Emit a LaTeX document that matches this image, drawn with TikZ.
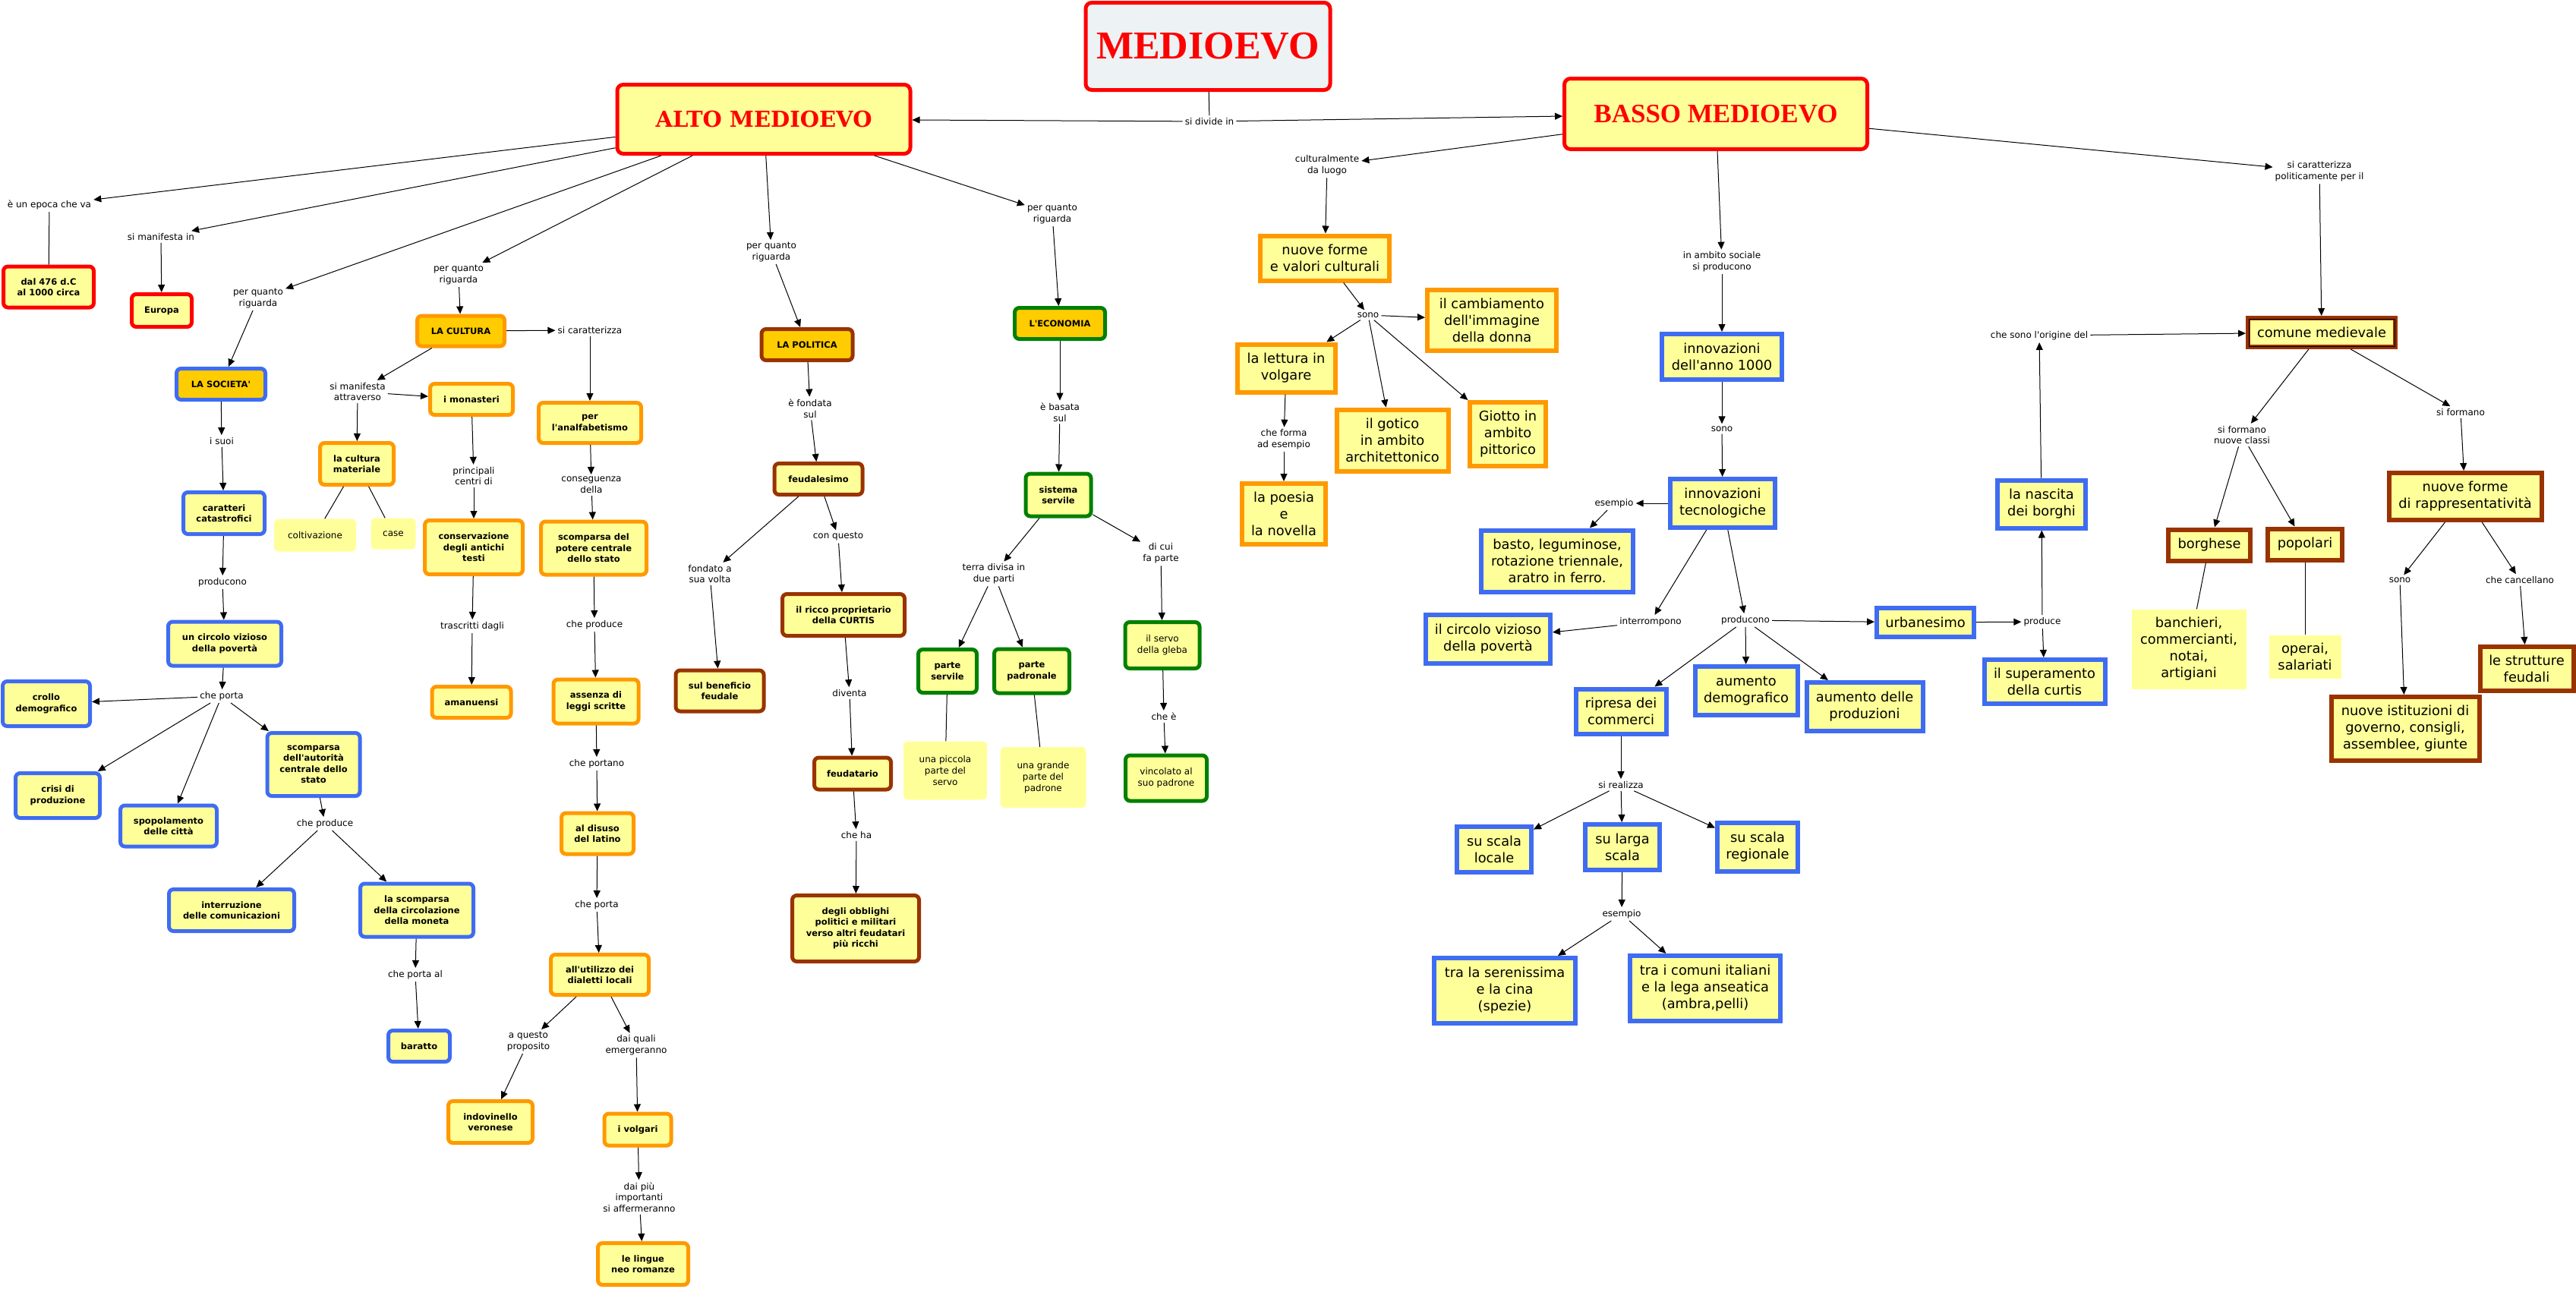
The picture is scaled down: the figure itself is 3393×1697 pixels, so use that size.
\documentclass[tikz,border=0pt]{standalone}
\usepackage{fontspec}
\setmainfont{DejaVu Sans}
\newfontfamily\timesfont{Liberation Serif}
\newfontfamily\slabfont{DejaVu Serif}
\usepackage{tikz}
\usetikzlibrary{arrows.meta, positioning}
\definecolor{giallo}{HTML}{FFFF99}
\definecolor{oro}{HTML}{FFCC00}
\definecolor{grigio}{HTML}{EDF3F5}
\definecolor{rosso}{HTML}{FF0000}
\definecolor{blu}{HTML}{3F6CF2}
\definecolor{arancio}{HTML}{FF9900}
\definecolor{marrone}{HTML}{993300}
\definecolor{verde}{HTML}{008000}

\begin{document}
\begin{tikzpicture}[x=1pt, y=-1pt,
    lbl/.style={font=\fontsize{12}{14.7}\selectfont, align=center, inner sep=3pt},
    nodoA/.style={draw=#1, line width=5pt, rounded corners=6pt, fill=giallo, align=center, inner sep=2pt, font=\fontsize{11.5}{14.5}\selectfont\bfseries},
    nodoB/.style={draw=#1, line width=6pt, fill=giallo, align=center, inner sep=2pt, font=\fontsize{17.8}{22}\selectfont},
    testa/.style={fill=oro},
    semplice/.style={fill=giallo, rounded corners=6pt, align=center, inner sep=2pt, font=\fontsize{12}{14.7}\selectfont},
    titolo/.style={draw=rosso, line width=5pt, rounded corners=8pt, fill=giallo, text=rosso, inner sep=2pt},
    sz/.style 2 args={minimum width=#1pt, minimum height=#2pt},
    arr/.style={line width=1pt, -{Triangle[length=10pt,width=9pt]}},
    tratto/.style={line width=1pt}]

            \useasboundingbox (0,0) rectangle (3393,1697);

            % Vẽ các tiêu đề
            \node[titolo, fill=grigio, sz={322}{115}, font=\timesfont\bfseries\fontsize{52}{60}\selectfont] (medioevo) at (1591,61) {MEDIOEVO};
            \node[titolo, sz={386}{91}, font=\slabfont\bfseries\fontsize{29}{34}\selectfont] (alto) at (1006,157) {ALTO MEDIOEVO};
            \node[titolo, sz={399}{93}, font=\timesfont\bfseries\fontsize{35}{40}\selectfont] (basso) at (2260,150) {BASSO MEDIOEVO};

            % Vẽ các nút - alto medioevo
            \node[nodoA=rosso, sz={119}{54}] (dal476) at (64,378) {dal 476 d.C\\al 1000 circa};
            \node[nodoA=rosso, sz={79}{43}] (europa) at (213,409) {Europa};
            \node[nodoA=blu, testa, sz={117}{41}] (societa) at (291,506) {LA SOCIETA\textquotesingle};
            \node[nodoA=blu, sz={107}{55}] (caratteri) at (295,676) {caratteri\\catastrofici};
            \node[nodoA=blu, sz={149}{58}] (circolo) at (296,848) {un circolo vizioso\\della povertà};
            \node[nodoA=blu, sz={115}{59}] (crollo) at (61,927) {crollo\\demografico};
            \node[nodoA=blu, sz={111}{59}] (crisi) at (76,1048) {crisi di\\produzione};
            \node[nodoA=blu, sz={127}{54}] (spopol) at (222,1088) {spopolamento\\delle città};
            \node[nodoA=blu, sz={122}{83}] (autorita) at (413,1007) {scomparsa\\dell\textquotesingle{}autorità\\centrale dello\\stato};
            \node[nodoA=blu, sz={165}{55}] (interruz) at (305,1199) {interruzione\\delle comunicazioni};
            \node[nodoA=blu, sz={149}{70}] (moneta) at (549,1199) {la scomparsa\\della circolazione\\della moneta};
            \node[nodoA=blu, sz={81}{41}] (baratto) at (552,1378) {baratto};

            \node[nodoA=arancio, testa, sz={115}{40}] (cultura) at (607,436) {LA CULTURA};
            \node[nodoA=arancio, sz={109}{41}] (monasteri) at (621,526) {i monasteri};
            \node[nodoA=arancio, sz={97}{55}] (materiale) at (470,611) {la cultura\\materiale};
            \node[semplice, sz={108}{43}] (coltiv) at (415,705) {coltivazione};
            \node[semplice, sz={59}{41}] (case) at (518,703) {case};
            \node[nodoA=arancio, sz={129}{71}] (conserv) at (624,721) {conservazione\\degli antichi\\testi};
            \node[nodoA=arancio, sz={104}{41}] (amanuensi) at (621,925) {amanuensi};
            \node[nodoA=arancio, sz={135}{53}] (analfab) at (777,557) {per\\l\textquotesingle{}analfabetismo};
            \node[nodoA=arancio, sz={139}{70}] (potere) at (782,722) {scomparsa del\\potere centrale\\dello stato};
            \node[nodoA=arancio, sz={112}{58}] (leggi) at (785,924) {assenza di\\leggi scritte};
            \node[nodoA=arancio, sz={95}{54}] (latino) at (787,1098) {al disuso\\del latino};
            \node[nodoA=arancio, sz={129}{53}] (dialetti) at (790,1284) {all\textquotesingle{}utilizzo dei\\dialetti locali};
            \node[nodoA=arancio, sz={111}{55}] (indov) at (646,1478) {indovinello\\veronese};
            \node[nodoA=arancio, sz={88}{42}] (volgari) at (840,1488) {i volgari};
            \node[nodoA=arancio, sz={119}{55}] (lingue) at (847,1665) {le lingue\\neo romanze};

            \node[nodoA=marrone, testa, sz={120}{41}] (politica) at (1063,454) {LA POLITICA};
            \node[nodoA=marrone, sz={116}{41}] (feudal) at (1078,631) {feudalesimo};
            \node[nodoA=marrone, sz={116}{54}] (benef) at (948,910) {sul beneficio\\feudale};
            \node[nodoA=marrone, sz={161}{55}] (ricco) at (1111,810) {il ricco proprietario\\della CURTIS};
            \node[nodoA=marrone, sz={101}{42}] (feudat) at (1123,1019) {feudatario};
            \node[nodoA=marrone, sz={167}{87}] (obblighi) at (1127,1223) {degli obblighi\\politici e militari\\verso altri feudatari\\più ricchi};

            \node[nodoA=verde, testa, sz={119}{41}] (economia) at (1396,426) {L\textquotesingle ECONOMIA};
            \node[nodoA=verde, sz={86}{56}] (servile) at (1394,652) {sistema\\servile};
            \node[nodoA=verde, sz={77}{57}] (pservile) at (1248,884) {parte\\servile};
            \node[nodoA=verde, sz={99}{58}] (ppadron) at (1359,884) {parte\\padronale};
            \node[semplice, sz={110}{77}] (piccola) at (1245,1015) {una piccola\\parte del\\servo};
            \node[semplice, sz={113}{80}] (grande) at (1374,1024) {una grande\\parte del\\padrone};
            \node[nodoA=verde, sz={98}{61}, font=\fontsize{12}{14.7}\selectfont] (gleba) at (1531,850) {il servo\\della gleba};
            \node[nodoA=verde, sz={107}{60}, font=\fontsize{12}{14.7}\selectfont] (vincolato) at (1536,1025) {vincolato al\\suo padrone};

            % Vẽ các nút - basso medioevo
            \node[nodoB=arancio, sz={170}{59}] (nuoveforme) at (1745,340) {nuove forme\\e valori culturali};
            \node[nodoB=arancio, sz={170}{80}] (donna) at (1965,422) {il cambiamento\\dell\textquotesingle{}immagine\\della donna};
            \node[nodoB=arancio, sz={129}{63}] (lettura) at (1694,485) {la lettura in\\volgare};
            \node[nodoB=arancio, sz={147}{81}] (gotico) at (1834,580) {il gotico\\in ambito\\architettonico};
            \node[nodoB=arancio, sz={100}{84}] (giotto) at (1986,572) {Giotto in\\ambito\\pittorico};
            \node[nodoB=arancio, sz={110}{80}] (poesia) at (1691,677) {la poesia\\e\\la novella};

            \node[nodoB=blu, sz={158}{60}] (anno) at (2268,470) {innovazioni\\dell\textquotesingle{}anno 1000};
            \node[nodoB=blu, sz={138}{64}] (tecno) at (2269,663) {innovazioni\\tecnologiche};
            \node[nodoB=blu, sz={200}{81}] (basto) at (2051,739) {basto, leguminose,\\rotazione triennale,\\aratro in ferro.};
            \node[nodoB=blu, sz={164}{64}] (circoloB) at (1960,842) {il circolo vizioso\\della povertà};
            \node[nodoB=blu, sz={119}{59}] (commerci) at (2135,937) {ripresa dei\\commerci};
            \node[nodoB=blu, sz={135}{64}] (demogr) at (2300,910) {aumento\\demografico};
            \node[nodoB=blu, sz={153}{64}] (produz) at (2456,931) {aumento delle\\produzioni};
            \node[nodoB=blu, sz={128}{38}] (urban) at (2536,820) {urbanesimo};
            \node[nodoB=blu, sz={159}{58}] (superam) at (2693,898) {il superamento\\della curtis};
            \node[nodoB=blu, sz={116}{63}] (nascita) at (2689,664) {la nascita\\dei borghi};
            \node[nodoB=blu, sz={98}{60}] (locale) at (1968,1119) {su scala\\locale};
            \node[nodoB=blu, sz={98}{60}] (larga) at (2137,1116) {su larga\\scala};
            \node[nodoB=blu, sz={106}{64}] (regionale) at (2315,1116) {su scala\\regionale};
            \node[nodoB=blu, sz={186}{86}] (serenissima) at (1982,1305) {tra la serenissima\\e la cina\\(spezie)};
            \node[nodoB=blu, sz={198}{86}] (comuni) at (2246,1302) {tra i comuni italiani\\e la lega anseatica\\(ambra,pelli)};

            \node[nodoB=marrone, sz={194}{38}] (comune) at (3058,438) {comune medievale};
            \draw[line width=1pt] ([shift={(4,4)}]comune.north west) rectangle ([shift={(-4,-4)}]comune.south east); % bordo doppio
            \node[nodoB=marrone, sz={108}{41}] (borghese) at (2910,718) {borghese};
            \node[nodoB=marrone, sz={98}{41}] (popolari) at (3036,717) {popolari};
            \node[semplice, rounded corners=0pt, sz={151}{105}, font=\fontsize{17.8}{22}\selectfont] (banchieri) at (2883,855) {banchieri,\\commercianti,\\notai,\\artigiani};
            \node[semplice, rounded corners=0pt, sz={95}{57}, font=\fontsize{17.8}{22}\selectfont] (operai) at (3036,865) {operai,\\salariati};
            \node[nodoB=marrone, sz={201}{62}] (rappr) at (3247,654) {nuove forme\\di rappresentatività};
            \node[nodoB=marrone, sz={123}{58}] (strutture) at (3328,881) {le strutture\\feudali};
            \node[nodoB=marrone, sz={195}{84}] (istituz) at (3168,960) {nuove istituzioni di\\governo, consigli,\\assemblee, giunte};

            % Vẽ các nhãn
            \node[lbl] (sidivide) at (1593,160) {si divide in};
            \node[lbl] (epoca) at (65,270) {è un epoca che va};
            \node[lbl] (manif) at (212,312) {si manifesta in};
            \node[lbl] (pqrSoc) at (340,393) {per quanto\\riguarda};
            \node[lbl] (pqrCul) at (604,362) {per quanto\\riguarda};
            \node[lbl] (pqrPol) at (1016,332) {per quanto\\riguarda};
            \node[lbl] (pqrEco) at (1386,282) {per quanto\\riguarda};
            \node[lbl] (suoi) at (292,581) {i suoi};
            \node[lbl] (producono) at (293,767) {producono};
            \node[lbl] (cheporta) at (292,917) {che porta};
            \node[lbl] (cheproduce) at (428,1085) {che produce};
            \node[lbl] (cheportaal) at (547,1284) {che porta al};
            \node[lbl] (manifattr) at (471,516) {si manifesta\\attraverso};
            \node[lbl] (principali) at (624,627) {principali\\centri di};
            \node[lbl] (trascritti) at (622,825) {trascritti dagli};
            \node[lbl] (caratt) at (777,435) {si caratterizza};
            \node[lbl] (conseg) at (779,639) {conseguenza\\della};
            \node[lbl] (cheproduceB) at (783,823) {che produce};
            \node[lbl] (cheportano) at (786,1006) {che portano};
            \node[lbl] (cheportaB) at (786,1192) {che porta};
            \node[lbl] (aquesto) at (696,1372) {a questo\\proposito};
            \node[lbl] (daiquali) at (838,1377) {dai quali\\emergeranno};
            \node[lbl] (daipiu) at (842,1577) {dai più\\importanti\\si affermeranno};
            \node[lbl] (fondata) at (1067,538) {è fondata\\sul};
            \node[lbl] (fondato) at (935,756) {fondato a\\sua volta};
            \node[lbl] (conquesto) at (1104,707) {con questo};
            \node[lbl] (diventa) at (1119,913) {diventa};
            \node[lbl] (cheha) at (1128,1100) {che ha};
            \node[lbl] (basata) at (1396,543) {è basata\\sul};
            \node[lbl] (terra) at (1309,756) {terra divisa in\\due parti};
            \node[lbl] (dicui) at (1529,729) {di cui\\fa parte};
            \node[lbl] (chee) at (1533,944) {che è};

            \node[lbl] (cultural) at (1748,218) {culturalmente\\da luogo};
            \node[lbl] (sonoB) at (1802,415) {sono};
            \node[lbl] (cheforma) at (1691,579) {che forma\\ad esempio};
            \node[lbl] (ambito) at (2268,345) {in ambito sociale\\si producono};
            \node[lbl] (sonoA) at (2268,565) {sono};
            \node[lbl] (esempioA) at (2126,663) {esempio};
            \node[lbl] (interr) at (2174,819) {interrompono};
            \node[lbl] (producB) at (2299,817) {producono};
            \node[lbl] (sirealizza) at (2135,1034) {si realizza};
            \node[lbl] (esempioB) at (2136,1204) {esempio};
            \node[lbl] (produce) at (2690,819) {produce};
            \node[lbl] (origine) at (2686,442) {che sono l\textquotesingle{}origine del};
            \node[lbl] (politic) at (3055,226) {si caratterizza\\politicamente per il};
            \node[lbl] (nuoveclassi) at (2953,573) {si formano\\nuove classi};
            \node[lbl] (siformano) at (3241,543) {si formano};
            \node[lbl] (sonoR) at (3161,764) {sono};
            \node[lbl] (cancellano) at (3319,764) {che cancellano};

            % Vẽ các mũi tên - medioevo
            \draw[tratto] (medioevo) -- (sidivide);
            \draw[arr] (sidivide) -- (alto);
            \draw[arr] (sidivide) -- (basso);

            % alto medioevo
            \draw[arr] (alto) -- (epoca);
            \draw[tratto] (epoca) -- (dal476);
            \draw[arr] (alto) -- (manif);
            \draw[arr] (manif) -- (europa);
            \draw[arr] (alto) -- (pqrSoc);
            \draw[arr] (pqrSoc) -- (societa);
            \draw[arr] (alto) -- (pqrCul);
            \draw[arr] (pqrCul) -- (cultura);
            \draw[arr] (alto) -- (pqrPol);
            \draw[arr] (pqrPol) -- (politica);
            \draw[arr] (alto) -- (pqrEco);
            \draw[arr] (pqrEco) -- (economia);

            % la società
            \draw[arr] (societa) -- (suoi);
            \draw[arr] (suoi) -- (caratteri);
            \draw[arr] (caratteri) -- (producono);
            \draw[arr] (producono) -- (circolo);
            \draw[arr] (circolo) -- (cheporta);
            \draw[arr] (cheporta) -- (crollo);
            \draw[arr] (cheporta) -- (crisi);
            \draw[arr] (cheporta) -- (spopol);
            \draw[arr] (cheporta) -- (autorita);
            \draw[arr] (autorita) -- (cheproduce);
            \draw[arr] (cheproduce) -- (interruz);
            \draw[arr] (cheproduce) -- (moneta);
            \draw[arr] (moneta) -- (cheportaal);
            \draw[arr] (cheportaal) -- (baratto);

            % la cultura
            \draw[arr] (cultura) -- (manifattr);
            \draw[arr] (manifattr) -- (monasteri);
            \draw[arr] (manifattr) -- (materiale);
            \draw[tratto] (materiale) -- (coltiv);
            \draw[tratto] (materiale) -- (case);
            \draw[arr] (monasteri) -- (principali);
            \draw[arr] (principali) -- (conserv);
            \draw[arr] (conserv) -- (trascritti);
            \draw[arr] (trascritti) -- (amanuensi);
            \draw[arr] (cultura) -- (caratt);
            \draw[arr] (caratt) -- (analfab);
            \draw[arr] (analfab) -- (conseg);
            \draw[arr] (conseg) -- (potere);
            \draw[arr] (potere) -- (cheproduceB);
            \draw[arr] (cheproduceB) -- (leggi);
            \draw[arr] (leggi) -- (cheportano);
            \draw[arr] (cheportano) -- (latino);
            \draw[arr] (latino) -- (cheportaB);
            \draw[arr] (cheportaB) -- (dialetti);
            \draw[arr] (dialetti) -- (aquesto);
            \draw[arr] (aquesto) -- (indov);
            \draw[arr] (dialetti) -- (daiquali);
            \draw[arr] (daiquali) -- (volgari);
            \draw[arr] (volgari) -- (daipiu);
            \draw[arr] (daipiu) -- (lingue);

            % la politica
            \draw[arr] (politica) -- (fondata);
            \draw[arr] (fondata) -- (feudal);
            \draw[arr] (feudal) -- (fondato);
            \draw[arr] (fondato) -- (benef);
            \draw[arr] (feudal) -- (conquesto);
            \draw[arr] (conquesto) -- (ricco);
            \draw[arr] (ricco) -- (diventa);
            \draw[arr] (diventa) -- (feudat);
            \draw[arr] (feudat) -- (cheha);
            \draw[arr] (cheha) -- (obblighi);

            % l'economia
            \draw[arr] (economia) -- (basata);
            \draw[arr] (basata) -- (servile);
            \draw[arr] (servile) -- (terra);
            \draw[arr] (terra) -- (pservile);
            \draw[arr] (terra) -- (ppadron);
            \draw[tratto] (pservile) -- (piccola);
            \draw[tratto] (ppadron) -- (grande);
            \draw[arr] (servile) -- (dicui);
            \draw[arr] (dicui) -- (gleba);
            \draw[arr] (gleba) -- (chee);
            \draw[arr] (chee) -- (vincolato);

            % basso medioevo
            \draw[arr] (basso) -- (cultural);
            \draw[arr] (cultural) -- (nuoveforme);
            \draw[arr] (nuoveforme) -- (sonoB);
            \draw[arr] (sonoB) -- (lettura);
            \draw[arr] (sonoB) -- (gotico);
            \draw[arr] (sonoB) -- (giotto);
            \draw[arr] (sonoB) -- (donna);
            \draw[arr] (lettura) -- (cheforma);
            \draw[arr] (cheforma) -- (poesia);

            \draw[arr] (basso) -- (ambito);
            \draw[arr] (ambito) -- (anno);
            \draw[arr] (anno) -- (sonoA);
            \draw[arr] (sonoA) -- (tecno);
            \draw[arr] (tecno) -- (esempioA);
            \draw[arr] (esempioA) -- (basto);
            \draw[arr] (tecno) -- (interr);
            \draw[arr] (interr) -- (circoloB);
            \draw[arr] (tecno) -- (producB);
            \draw[arr] (producB) -- (commerci);
            \draw[arr] (producB) -- (demogr);
            \draw[arr] (producB) -- (produz);
            \draw[arr] (producB) -- (urban);
            \draw[arr] (commerci) -- (sirealizza);
            \draw[arr] (sirealizza) -- (locale);
            \draw[arr] (sirealizza) -- (larga);
            \draw[arr] (sirealizza) -- (regionale);
            \draw[arr] (larga) -- (esempioB);
            \draw[arr] (esempioB) -- (serenissima);
            \draw[arr] (esempioB) -- (comuni);
            \draw[arr] (urban) -- (produce);
            \draw[arr] (produce) -- (nascita);
            \draw[arr] (produce) -- (superam);
            \draw[arr] (nascita) -- (origine);
            \draw[arr] (origine) -- (comune);

            \draw[arr] (basso) -- (politic);
            \draw[arr] (politic) -- (comune);
            \draw[arr] (comune) -- (nuoveclassi);
            \draw[arr] (nuoveclassi) -- (borghese);
            \draw[arr] (nuoveclassi) -- (popolari);
            \draw[tratto] (borghese) -- (banchieri);
            \draw[tratto] (popolari) -- (operai);
            \draw[arr] (comune) -- (siformano);
            \draw[arr] (siformano) -- (rappr);
            \draw[arr] (rappr) -- (sonoR);
            \draw[arr] (sonoR) -- (istituz);
            \draw[arr] (rappr) -- (cancellano);
            \draw[arr] (cancellano) -- (strutture);

            \end{tikzpicture}
\end{document}
